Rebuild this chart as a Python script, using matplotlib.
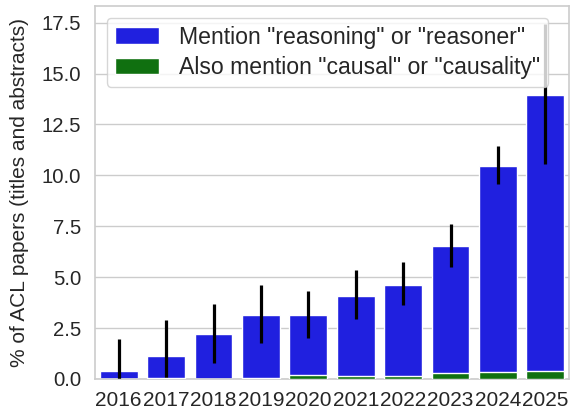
import matplotlib
matplotlib.use("Agg")
import matplotlib.pyplot as plt
import seaborn as sns
import numpy as np

years = ["2016", "2017", "2018", "2019", "2020", "2021", "2022", "2023", "2024", "2025"]
reasoning = [0.41, 1.12, 2.19, 3.16, 3.14, 4.10, 4.64, 6.53, 10.44, 13.93]
reasoning_lo = [0.0, 0.0, 0.77, 1.79, 2.00, 2.94, 3.62, 5.51, 9.57, 10.56]
reasoning_hi = [1.96, 2.88, 3.67, 4.62, 4.34, 5.35, 5.74, 7.61, 11.43, 17.43]
causal = [0.0, 0.05, 0.02, 0.06, 0.20, 0.15, 0.15, 0.30, 0.36, 0.41]

sns.set_theme(style="whitegrid")
plt.rcParams["font.family"] = ["Liberation Sans", "DejaVu Sans"]

fig = plt.figure(figsize=(5.71, 4.12), dpi=100)
ax = fig.add_axes([95 / 571, 1 - 379 / 412, (569 - 95) / 571, (379 - 6) / 412])

x = np.arange(len(years))
blue = "#2020DF"
green = "#107010"
ax.bar(x, reasoning, width=0.8, color=blue, edgecolor="white", linewidth=1.0,
       label='Mention "reasoning" or "reasoner"', zorder=2)
ax.vlines(x, reasoning_lo, reasoning_hi, color="black", linewidth=2.3, zorder=3)
ax.bar(x, causal, width=0.8, color=green, edgecolor="white", linewidth=1.0,
       label='Also mention "causal" or "causality"', zorder=4)

ax.set_xlim(-0.5, len(years) - 0.5)
ax.set_ylim(0, 18.32)
ax.set_xticks(x)
ax.set_xticklabels(years, fontsize=15)
yt = np.arange(0, 17.6, 2.5)
ax.set_yticks(yt)
ax.set_yticklabels([f"{v:.1f}" for v in yt], fontsize=14.6)
ax.tick_params(axis="both", length=0)
ax.tick_params(axis="y", pad=10, colors="0.15")
ax.tick_params(axis="x", pad=8.5, colors="0.15")
ax.grid(axis="x", visible=False)
ax.grid(axis="y", color="0.8", linewidth=1.0, zorder=0)
ax.set_axisbelow(True)
for s in ax.spines.values():
    s.set_color("0.8")
    s.set_linewidth(1.2)
ax.set_ylabel("% of ACL papers (titles and abstracts)", fontsize=15, color="0.15", labelpad=9)

leg = ax.legend(loc="upper left", fontsize=16.6, handlelength=1.94, handletextpad=0.86,
                framealpha=0.8, labelspacing=0.32, borderpad=0.35)
for t in leg.get_texts():
    t.set_color("0.15")

fig.savefig("out.png", dpi=100)
